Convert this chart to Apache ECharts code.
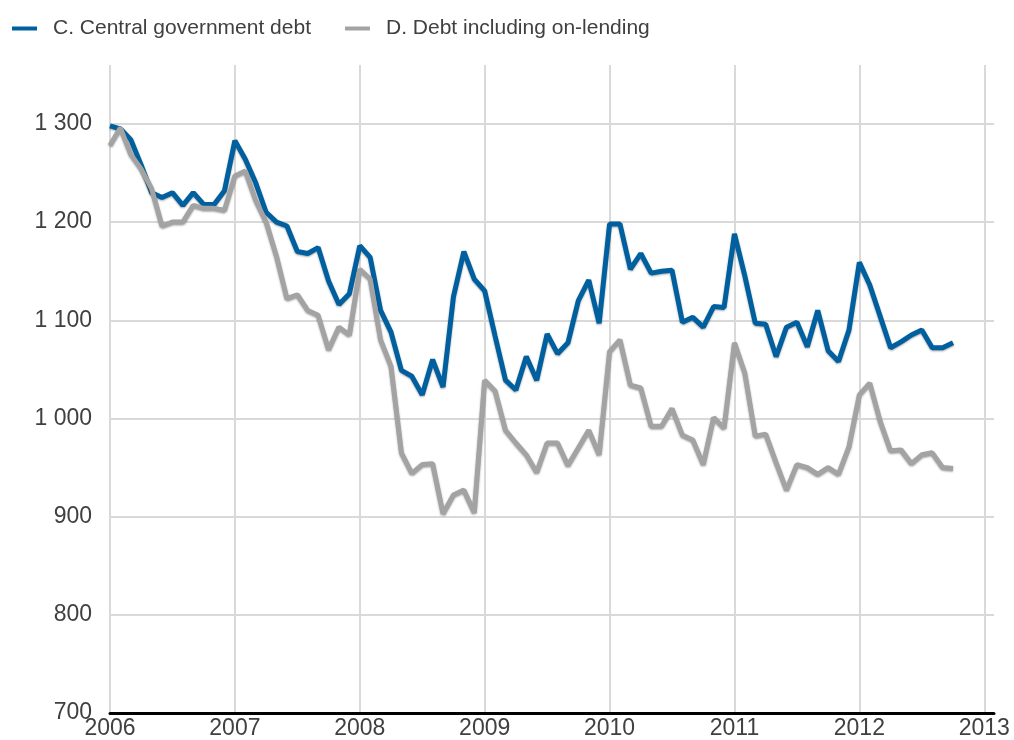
<!DOCTYPE html>
<html>
<head>
<meta charset="utf-8">
<script src="https://cdn.jsdelivr.net/npm/echarts@6/dist/echarts.min.js"></script>
<style>
html,body{margin:0;padding:0;background:#fff;}
#chart{width:1014px;height:740px;}
</style>
</head>
<body>
<div id="chart"></div>
<script>
// Monthly data, Jan 2006 – Oct 2012
const startYear = 2006;
const seriesNames = ['C. Central government debt', 'D. Debt including on-lending'];
const centralDebt = [
  1298, 1295, 1284, 1258, 1230, 1225, 1230, 1217, 1230, 1218, 1218, 1232,
  1283, 1264, 1240, 1210, 1200, 1196, 1170, 1168, 1174, 1140, 1116, 1127,
  1176, 1164, 1110, 1088, 1049, 1043, 1024, 1060, 1032, 1124, 1170, 1142,
  1130, 1084, 1039, 1029, 1063, 1039, 1086, 1066, 1077, 1120, 1141, 1097,
  1198, 1198, 1152, 1168, 1148, 1150, 1151, 1098, 1103, 1093, 1114, 1113,
  1188, 1145, 1097, 1096, 1063, 1093, 1098, 1073, 1110, 1069, 1058, 1090,
  1159, 1136, 1104, 1072, 1078, 1085, 1090, 1072, 1072, 1077
];
const debtOnLending = [
  1278, 1296, 1269, 1254, 1234, 1196, 1200, 1200, 1217, 1214, 1214, 1212,
  1247, 1252, 1222, 1200, 1165, 1122, 1126, 1110, 1105, 1070, 1093, 1085,
  1152, 1142, 1080, 1053, 965, 944, 953, 954, 903, 922, 927, 904,
  1039, 1028, 988, 975, 963, 945, 975, 975, 952, 970, 988, 963,
  1068, 1080, 1034, 1031, 992, 992, 1010, 983, 978, 953, 1001, 990,
  1077, 1046, 982, 984, 955, 927, 953, 950, 943, 950, 943, 971,
  1024, 1036, 997, 967, 968, 954, 963, 965, 950, 949
];
const yearTicks = [2006, 2007, 2008, 2009, 2010, 2011, 2012, 2013];
const yTicks = [700, 800, 900, 1000, 1100, 1200, 1300];

function toPairs(arr) {
  return arr.map((v, i) => [startYear + i / 12, v]);
}
function fmtThousands(v) {
  return String(v).replace(/\B(?=(\d{3})+(?!\d))/g, ' ');
}

const chart = echarts.init(document.getElementById('chart'));
const txt = '#404040';
const grid = '#d9d9d9';
chart.setOption({
  animation: false,
  textStyle: { fontFamily: 'Liberation Sans, Arial, sans-serif' },
  legend: {
    left: 12, top: 18, padding: 0,
    itemWidth: 25, itemHeight: 4, itemGap: 34,
    icon: 'rect',
    textStyle: { fontSize: 21, color: txt, padding: [0, 0, 0, 11] },
    data: seriesNames
  },
  grid: { left: 110, right: 20, top: 65, bottom: 26, containLabel: false },
  xAxis: {
    type: 'value',
    min: yearTicks[0], max: 2013.078, interval: 1,
    axisLine: { show: true, lineStyle: { color: '#000', width: 3 } },
    axisTick: { show: false },
    axisLabel: {
      fontSize: 23, color: txt, margin: 4,
      showMaxLabel: true,
      formatter: v => (yearTicks.indexOf(Math.round(v * 1000) / 1000) >= 0 ? String(Math.round(v)) : '')
    },
    splitLine: { show: true, showMaxLine: false, lineStyle: { color: grid, width: 2 } }
  },
  yAxis: {
    type: 'value',
    min: yTicks[0], max: 1360, interval: 100,
    axisLine: { show: false },
    axisTick: { show: false },
    axisLabel: {
      fontSize: 23, color: txt, margin: 18,
      formatter: v => (yTicks.indexOf(Math.round(v)) >= 0 && Math.abs(v - Math.round(v)) < 1e-6 ? fmtThousands(v) : '')
    },
    splitLine: { show: true, showMaxLine: false, lineStyle: { color: grid, width: 2 } }
  },
  series: [
    {
      name: seriesNames[0], type: 'line', showSymbol: false, symbol: 'none',
      data: toPairs(centralDebt),
      itemStyle: { color: '#00609f' },
      lineStyle: { width: 5, color: '#00609f', shadowColor: 'rgba(0,0,0,0.35)', shadowBlur: 2, shadowOffsetY: 1 }
    },
    {
      name: seriesNames[1], type: 'line', showSymbol: false, symbol: 'none',
      data: toPairs(debtOnLending),
      itemStyle: { color: '#a3a3a3' },
      lineStyle: { width: 5, color: '#a3a3a3', shadowColor: 'rgba(0,0,0,0.35)', shadowBlur: 2, shadowOffsetY: 1 }
    }
  ]
});
</script>
</body>
</html>
